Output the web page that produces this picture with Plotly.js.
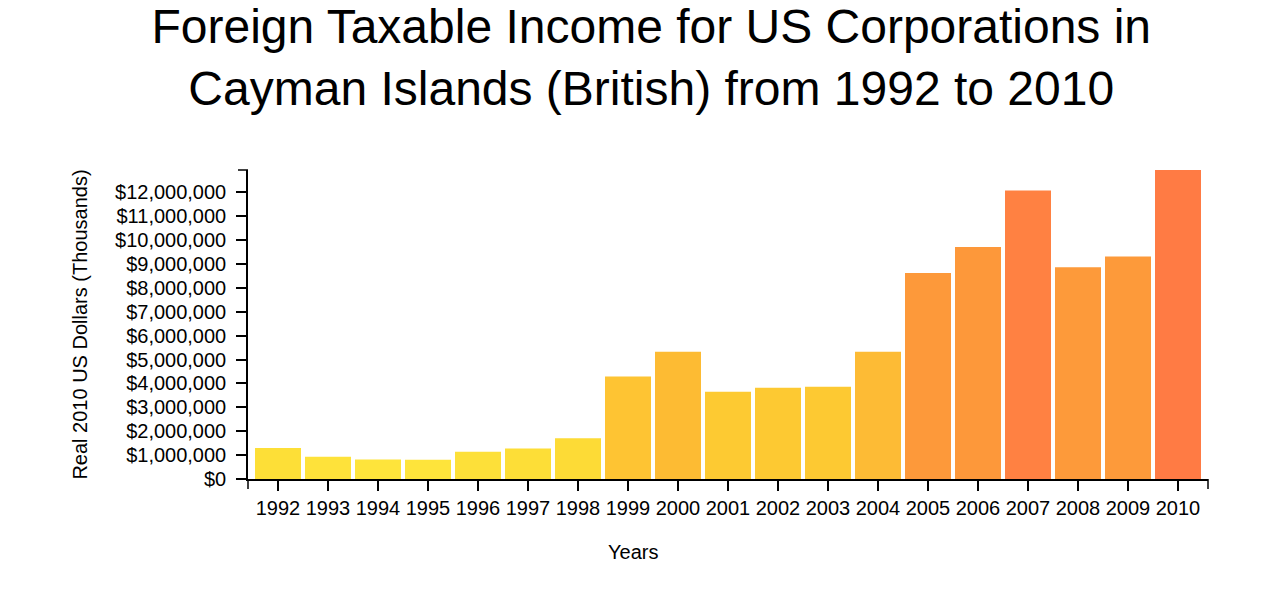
<!DOCTYPE html>
<html>
<head>
<meta charset="utf-8">
<script src="https://cdn.plot.ly/plotly-3.0.1.min.js"></script>
<style>
  body { margin: 0; background: #fff; }
  #chart { width: 1282px; height: 602px; }
</style>
</head>
<body>
<div id="chart"></div>
<script>
// years and income (real 2010 US dollars, thousands)
var years = ['1992','1993','1994','1995','1996','1997','1998','1999','2000','2001',
             '2002','2003','2004','2005','2006','2007','2008','2009','2010']
var income = [1300000, 930000, 820000, 810000, 1140000, 1280000, 1710000, 4290000, 5320000, 3650000,
              3820000, 3860000, 5320000, 8620000, 9710000, 12070000, 8860000, 9310000, 12930000]
var barColors = ['#FDDF37','#FEE23A','#FEE43B','#FEE43B','#FDE039','#FDDE37','#FDDB36','#FEC433','#FDBB33','#FDCA32',
                 '#FDC932','#FDC932','#FDBB35','#FD993A','#FD983A','#FF8142','#FD9A3A','#FD9A3A','#FF7B44']

var font = 'Liberation Sans, Arial, Helvetica, sans-serif'

// little end ticks that d3 draws at the ends of each axis
var endTicks = [
  {type:'line', xref:'paper', yref:'paper', ysizemode:'pixel', yanchor:0, x0:0, x1:0, y0:0, y1:-10},
  {type:'line', xref:'paper', yref:'paper', ysizemode:'pixel', yanchor:0, x0:1, x1:1, y0:0, y1:-10},
  {type:'line', xref:'paper', yref:'paper', xsizemode:'pixel', xanchor:0, x0:0, x1:-10, y0:1, y1:1}
]
endTicks.forEach(s => { s.line = {color:'#000', width:1.5} })

Plotly.newPlot(document.getElementById('chart'), [{
  type: 'bar',
  x: years,
  y: income,
  marker: {color: barColors},
  hoverinfo: 'x+y'
}], {
  width: 1282,
  height: 602,
  margin: {l: 248, r: 74, t: 170, b: 123},
  paper_bgcolor: '#fff',
  plot_bgcolor: '#fff',
  bargap: 0.08,
  showlegend: false,
  font: {family: font, size: 20, color: '#000'},
  title: {
    text: 'Foreign Taxable Income for US Corporations in<br>Cayman Islands (British) from 1992 to 2010',
    font: {family: font, size: 48, color: '#000'},
    x: 0.508, xanchor: 'center',
    y: 0.929, yanchor: 'top', yref: 'container'
  },
  xaxis: {
    type: 'category',
    range: [-0.6, years.length - 0.4],
    showline: true, linecolor: '#000', linewidth: 1.5,
    ticks: 'outside', ticklen: 10, tickwidth: 1.5, tickcolor: '#000',
    showgrid: false, zeroline: false,
    fixedrange: true
  },
  yaxis: {
    range: [0, Math.max(...income)],
    dtick: 1000000,
    tickprefix: '$',
    tickformat: ',d',
    showline: true, linecolor: '#000', linewidth: 1.5,
    ticks: 'outside', ticklen: 10, tickwidth: 1.5, tickcolor: '#000',
    ticklabelstandoff: 6,
    showgrid: false, zeroline: false,
    fixedrange: true,
    title: {text: 'Real 2010 US Dollars (Thousands)', font: {family: font, size: 20, color: '#000'}, standoff: 22}
  },
  shapes: endTicks,
  annotations: [{
    text: 'Years',
    xref: 'paper', yref: 'paper',
    x: (633 - 248) / 960, y: 0,
    xanchor: 'center', yanchor: 'middle',
    yshift: -73,
    showarrow: false,
    font: {family: font, size: 20, color: '#000'}
  }]
}, {displayModeBar: false})
</script>
</body>
</html>
